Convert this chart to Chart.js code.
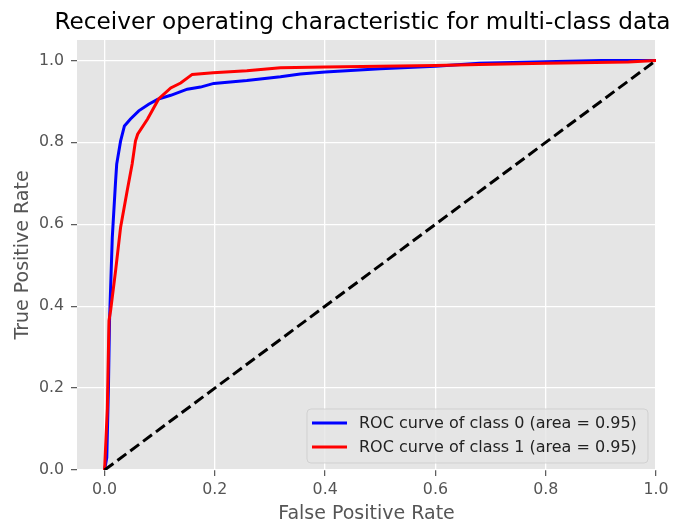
<!DOCTYPE html>
<html>
<head>
<meta charset="utf-8">
<script src="https://cdn.jsdelivr.net/npm/chart.js@4/dist/chart.umd.min.js"></script>
<style>
  html, body { margin: 0; padding: 0; background: #ffffff; }
  canvas { display: block; }
</style>
</head>
<body>
<canvas id="roc" width="685" height="523"></canvas>
<script>
// ROC curve points (false positive rate, true positive rate) per class
const fpr0 = [0, 0.004, 0.007, 0.009, 0.011, 0.014, 0.020, 0.022, 0.029, 0.036, 0.047, 0.062, 0.080, 0.096, 0.120, 0.150, 0.174, 0.198, 0.258, 0.319, 0.355, 0.400, 0.500, 0.600, 0.680, 0.800, 0.900, 1.0];
const tpr0 = [0, 0.030, 0.200, 0.365, 0.446, 0.568, 0.706, 0.747, 0.803, 0.840, 0.857, 0.877, 0.893, 0.905, 0.915, 0.930, 0.935, 0.944, 0.951, 0.960, 0.967, 0.972, 0.980, 0.986, 0.993, 0.997, 1.0, 1.0];

const fpr1 = [0, 0.005, 0.008, 0.011, 0.020, 0.029, 0.041, 0.050, 0.056, 0.060, 0.078, 0.098, 0.120, 0.138, 0.159, 0.197, 0.258, 0.319, 0.400, 0.600, 0.680, 0.800, 0.950, 1.0];
const tpr1 = [0, 0.150, 0.365, 0.390, 0.487, 0.592, 0.682, 0.747, 0.803, 0.820, 0.857, 0.906, 0.933, 0.945, 0.966, 0.970, 0.975, 0.982, 0.984, 0.988, 0.990, 0.993, 0.996, 1.0];

// chance line
const chanceX = [0, 1];
const chanceY = [0, 1];

const seriesLabels = ['ROC curve of class 0 (area = 0.95)', 'ROC curve of class 1 (area = 0.95)'];
const tickValues = [0, 0.2, 0.4, 0.6, 0.8, 1.0];

const titleText = 'Receiver operating characteristic for multi-class data';
const xLabel = 'False Positive Rate';
const yLabel = 'True Positive Rate';

const FONT = '"DejaVu Sans", sans-serif';
const toPoints = (xs, ys) => xs.map((x, i) => ({ x: x, y: ys[i] }));

// grey panel behind the plot
const panelBackground = {
  id: 'panelBackground',
  beforeDraw(chart) {
    const { ctx, chartArea: a } = chart;
    ctx.save();
    ctx.fillStyle = '#E5E5E5';
    ctx.fillRect(a.left, a.top, a.right - a.left, a.bottom - a.top);
    ctx.restore();
  }
};

// title and axis labels
const labelsPlugin = {
  id: 'labelsPlugin',
  afterDraw(chart) {
    const { ctx, chartArea: a } = chart;
    const cx = (a.left + a.right) / 2;
    const cy = (a.top + a.bottom) / 2;
    ctx.save();
    ctx.fillStyle = '#000000';
    ctx.font = '23.2px ' + FONT;
    ctx.textAlign = 'center';
    ctx.textBaseline = 'alphabetic';
    ctx.fillText(titleText, cx - 4, 29);

    ctx.fillStyle = '#555555';
    ctx.font = '19px ' + FONT;
    ctx.fillText(xLabel, cx, 519);

    ctx.translate(28, cy);
    ctx.rotate(-Math.PI / 2);
    ctx.fillText(yLabel, 0, 0);
    ctx.restore();
  }
};

// legend box in the lower right corner of the plot
const cornerLegend = {
  id: 'cornerLegend',
  afterDatasetsDraw(chart) {
    const { ctx, chartArea: a } = chart;
    const w = 341, h = 54;
    const x = a.right - 8 - w;
    const y = a.bottom - 7 - h;
    ctx.save();
    ctx.beginPath();
    ctx.roundRect(x, y, w, h, 4);
    ctx.fillStyle = 'rgba(229,229,229,0.8)';
    ctx.fill();
    ctx.lineWidth = 1;
    ctx.strokeStyle = 'rgba(204,204,204,0.8)';
    ctx.stroke();

    ctx.font = '16px ' + FONT;
    ctx.textAlign = 'left';
    ctx.textBaseline = 'middle';
    const colors = ['#0000FF', '#FF0000'];
    seriesLabels.forEach((lbl, i) => {
      const ly = y + 14 + i * 24;
      ctx.beginPath();
      ctx.moveTo(x + 5, ly);
      ctx.lineTo(x + 40, ly);
      ctx.strokeStyle = colors[i];
      ctx.lineWidth = 3;
      ctx.stroke();
      ctx.fillStyle = '#222222';
      ctx.fillText(lbl, x + 52, ly + 1);
    });
    ctx.restore();
  }
};

const fixedTicks = (scale) => {
  scale.ticks = tickValues.map(v => ({ value: v }));
};

new Chart(document.getElementById('roc'), {
  type: 'line',
  data: {
    datasets: [
      {
        label: seriesLabels[0],
        data: toPoints(fpr0, tpr0),
        borderColor: '#0000FF',
        borderWidth: 3,
        pointRadius: 0,
        tension: 0,
        fill: false,
        order: 2
      },
      {
        label: seriesLabels[1],
        data: toPoints(fpr1, tpr1),
        borderColor: '#FF0000',
        borderWidth: 3,
        pointRadius: 0,
        tension: 0,
        fill: false,
        order: 1
      },
      {
        label: 'chance',
        data: toPoints(chanceX, chanceY),
        borderColor: '#000000',
        borderWidth: 3,
        borderDash: [11, 5],
        pointRadius: 0,
        fill: false,
        order: 0
      }
    ]
  },
  options: {
    responsive: false,
    animation: false,
    devicePixelRatio: 1,
    layout: { padding: { top: 40, right: 29, left: 0, bottom: 0 } },
    plugins: {
      legend: { display: false },
      title: { display: false },
      tooltip: { enabled: false }
    },
    scales: {
      x: {
        type: 'linear',
        min: -0.05,
        max: 1.0,
        afterBuildTicks: fixedTicks,
        afterFit(scale) { scale.height = 53; },
        border: { display: false },
        grid: {
          color: '#FFFFFF',
          lineWidth: 1.3,
          drawTicks: true,
          tickLength: 6,
          tickColor: '#555555',
          tickWidth: 1.2
        },
        ticks: {
          color: '#555555',
          font: { family: FONT, size: 15.8 },
          padding: 4,
          maxRotation: 0,
          callback: v => Number(v).toFixed(1)
        }
      },
      y: {
        type: 'linear',
        min: 0,
        max: 1.05,
        afterBuildTicks: fixedTicks,
        afterFit(scale) { scale.width = 77; },
        border: { display: false },
        grid: {
          color: '#FFFFFF',
          lineWidth: 1.3,
          drawTicks: true,
          tickLength: 6,
          tickColor: '#555555',
          tickWidth: 1.2
        },
        ticks: {
          color: '#555555',
          font: { family: FONT, size: 15.8 },
          padding: 7,
          callback: v => Number(v).toFixed(1)
        }
      }
    }
  },
  plugins: [panelBackground, labelsPlugin, cornerLegend]
});
</script>
</body>
</html>
